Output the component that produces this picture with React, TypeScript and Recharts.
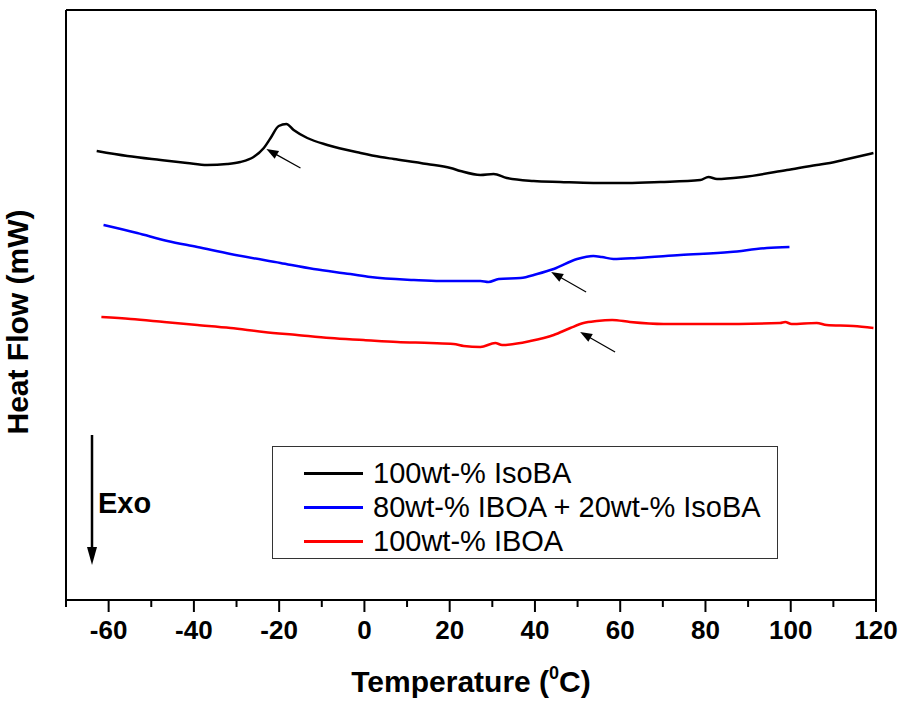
import React from "react";
import {
  LineChart,
  Line,
  XAxis,
  YAxis,
  Legend,
  ReferenceLine,
} from "recharts";

// DSC traces, heat flow in arbitrary units (no y scale on the original)
const isobaTemp = [-62.8, -55.6, -47.8, -41.6, -36.9, -32.2, -29.1, -26.0, -23.6, -22.0, -20.1, -18.3, -16.6, -13.4, -8.7, -0.9, 3.8, 6.9, 14.7, 20.2, 22.5, 27.2, 30.3, 33.4, 39.7, 45.9, 53.7, 61.6, 69.4, 78.8, 80.7, 82.7, 88.9, 99.1, 106.1, 109.2, 112.3, 119.4];
const isobaFlow = [4.51, 4.46, 4.42, 4.39, 4.37, 4.38, 4.4, 4.45, 4.54, 4.64, 4.76, 4.78, 4.72, 4.64, 4.57, 4.49, 4.45, 4.43, 4.38, 4.34, 4.31, 4.27, 4.28, 4.24, 4.21, 4.2, 4.19, 4.19, 4.2, 4.22, 4.25, 4.23, 4.25, 4.32, 4.37, 4.39, 4.42, 4.49];

const blendTemp = [-61.2, -53.3, -46.2, -39.2, -31.4, -19.7, -11.9, -3.3, 1.4, 11.6, 17.8, 27.2, 29.1, 31.5, 36.6, 40.5, 44.4, 49.9, 53.7, 55.7, 58.4, 63.9, 74.1, 85.8, 94.4, 99.7];
const blendFlow = [3.77, 3.69, 3.61, 3.55, 3.48, 3.39, 3.33, 3.28, 3.25, 3.22, 3.21, 3.21, 3.2, 3.23, 3.24, 3.28, 3.33, 3.43, 3.46, 3.45, 3.43, 3.44, 3.47, 3.5, 3.54, 3.55];

const iboaTemp = [-61.7, -54.8, -47.0, -39.2, -31.4, -23.6, -15.8, -8.0, -0.2, 7.7, 15.5, 20.9, 23.3, 27.2, 30.7, 32.3, 38.9, 44.4, 48.3, 51.4, 54.5, 58.1, 62.3, 70.2, 81.9, 97.5, 98.7, 100.2, 106.1, 108.4, 114.7, 119.4];
const iboaFlow = [2.85, 2.83, 2.8, 2.77, 2.74, 2.7, 2.67, 2.64, 2.62, 2.6, 2.59, 2.58, 2.56, 2.55, 2.59, 2.57, 2.61, 2.67, 2.74, 2.79, 2.81, 2.82, 2.8, 2.78, 2.78, 2.79, 2.8, 2.78, 2.79, 2.77, 2.76, 2.74];

const seriesNames = ["100wt-% IsoBA", "80wt-% IBOA + 20wt-% IsoBA", "100wt-% IBOA"];

// Tg markers: [tailT, tailFlow, tipT, tipFlow]
const tgArrows = [
  [-15.0, 4.34, -23.0, 4.53],
  [52.0, 3.1, 43.8, 3.3],
  [58.8, 2.5, 50.6, 2.7],
];
const exoArrow = [-63.9, 1.67, -63.9, 0.37];

const xTicks = [-70, -60, -50, -40, -30, -20, -10, 0, 10, 20, 30, 40, 50, 60, 70, 80, 90, 100, 110, 120];

const toPoints = (t: number[], f: number[]) => t.map((v, i) => ({ t: v, flow: f[i] }));

const FONT = "'Liberation Sans', Arial, sans-serif";

function arrowShape(head: number, half: number, width: number, label?: string) {
  return (props: any) => {
    const { x1, y1, x2, y2 } = props;
    const dx = x2 - x1;
    const dy = y2 - y1;
    const len = Math.hypot(dx, dy) || 1;
    const ux = dx / len;
    const uy = dy / len;
    const bx = x2 - ux * head;
    const by = y2 - uy * head;
    const pts = `${x2},${y2} ${bx - uy * half},${by + ux * half} ${bx + uy * half},${by - ux * half}`;
    return (
      <g>
        <line x1={x1} y1={y1} x2={bx + ux * 2} y2={by + uy * 2} stroke="#000" strokeWidth={width} />
        <polygon points={pts} fill="#000" />
        {label && (
          <text x={x1 + 6} y={y1 + 78} fontFamily={FONT} fontWeight="bold" fontSize={29} fill="#000">
            {label}
          </text>
        )}
      </g>
    );
  };
}

const TempTick = (props: any) => {
  const { x, y, payload } = props;
  const major = payload.value % 20 === 0;
  return (
    <g>
      <line x1={x} y1={y} x2={x} y2={y + (major ? 12 : 7)} stroke="#000" strokeWidth={2} />
      {major && (
        <text x={x} y={y + 39} textAnchor="middle" fontFamily={FONT} fontWeight="bold" fontSize={26} fill="#000">
          {payload.value}
        </text>
      )}
    </g>
  );
};

const XTitle = (props: any) => {
  const { viewBox } = props;
  const cx = viewBox.x + viewBox.width / 2;
  return (
    <text x={cx} y={viewBox.y + 92} textAnchor="middle" fontFamily={FONT} fontWeight="bold" fontSize={30} fill="#000">
      Temperature (<tspan fontSize={18} dy={-13}>0</tspan>
      <tspan dy={13}>C)</tspan>
    </text>
  );
};

const YTitle = (props: any) => {
  const { viewBox } = props;
  const x = viewBox.x - 37;
  const y = viewBox.y + viewBox.height / 2 + 17;
  return (
    <text x={x} y={y} transform={`rotate(-90, ${x}, ${y})`} textAnchor="middle" fontFamily={FONT} fontWeight="bold" fontSize={30} fill="#000">
      Heat Flow (mW)
    </text>
  );
};

const LegendBox = (props: any) => {
  const payload = [...(props.payload || [])].sort(
    (a: any, b: any) => seriesNames.indexOf(a.value) - seriesNames.indexOf(b.value)
  );
  return (
    <div
      style={{
        width: 506,
        height: 113,
        boxSizing: "border-box",
        border: "1px solid #333",
        background: "#fff",
        paddingTop: 9,
        fontFamily: FONT,
        fontSize: 29,
      }}
    >
      {payload.map((entry: any) => (
        <div key={entry.value} style={{ display: "flex", alignItems: "center", height: 34, whiteSpace: "nowrap" }}>
          <span style={{ display: "inline-block", marginLeft: 31, width: 59, height: 3, background: entry.color }} />
          <span style={{ marginLeft: 10, color: "#000" }}>{entry.value}</span>
        </div>
      ))}
    </div>
  );
};

export default function App() {
  const isoba = toPoints(isobaTemp, isobaFlow);
  const blend = toPoints(blendTemp, blendFlow);
  const iboa = toPoints(iboaTemp, iboaFlow);

  return (
    <div style={{ position: "absolute", left: 0, top: 0, background: "#fff" }}>
      <LineChart width={902} height={704} margin={{ top: 9, right: 25, left: 65, bottom: 44 }}>
        <XAxis
          dataKey="t"
          type="number"
          domain={[-70, 120]}
          ticks={xTicks}
          interval={0}
          allowDataOverflow
          height={60}
          tickSize={0}
          tickMargin={0}
          tickLine={false}
          tick={<TempTick />}
          axisLine={{ stroke: "#000", strokeWidth: 2 }}
          label={<XTitle />}
        />
        <XAxis
          xAxisId="top"
          orientation="top"
          dataKey="t"
          type="number"
          domain={[-70, 120]}
          height={1}
          tick={false}
          tickLine={false}
          axisLine={{ stroke: "#000", strokeWidth: 2 }}
        />
        <YAxis
          type="number"
          domain={[0.02, 5.92]}
          allowDataOverflow
          width={1}
          tick={false}
          tickLine={false}
          axisLine={{ stroke: "#000", strokeWidth: 2 }}
          label={<YTitle />}
        />
        <YAxis
          yAxisId="right"
          orientation="right"
          type="number"
          domain={[0.02, 5.92]}
          width={1}
          tick={false}
          tickLine={false}
          axisLine={{ stroke: "#000", strokeWidth: 2 }}
        />
        <Line data={isoba} dataKey="flow" name={seriesNames[0]} stroke="#000000" strokeWidth={2.5} dot={false} type="monotone" isAnimationActive={false} />
        <Line data={blend} dataKey="flow" name={seriesNames[1]} stroke="#0000ff" strokeWidth={2.5} dot={false} type="monotone" isAnimationActive={false} />
        <Line data={iboa} dataKey="flow" name={seriesNames[2]} stroke="#ff0000" strokeWidth={2.5} dot={false} type="monotone" isAnimationActive={false} />
        {tgArrows.map((a, i) => (
          <ReferenceLine
            key={i}
            segment={[{ x: a[0], y: a[1] }, { x: a[2], y: a[3] }]}
            shape={arrowShape(12, 4.5, 1.2)}
          />
        ))}
        <ReferenceLine
          segment={[{ x: exoArrow[0], y: exoArrow[1] }, { x: exoArrow[2], y: exoArrow[3] }]}
          shape={arrowShape(18, 5, 2.5, "Exo")}
        />
        <Legend
          layout="vertical"
          align="center"
          verticalAlign="middle"
          content={<LegendBox />}
          wrapperStyle={{ position: "absolute", left: 272, top: 446, width: 506, height: 113 }}
        />
      </LineChart>
    </div>
  );
}
